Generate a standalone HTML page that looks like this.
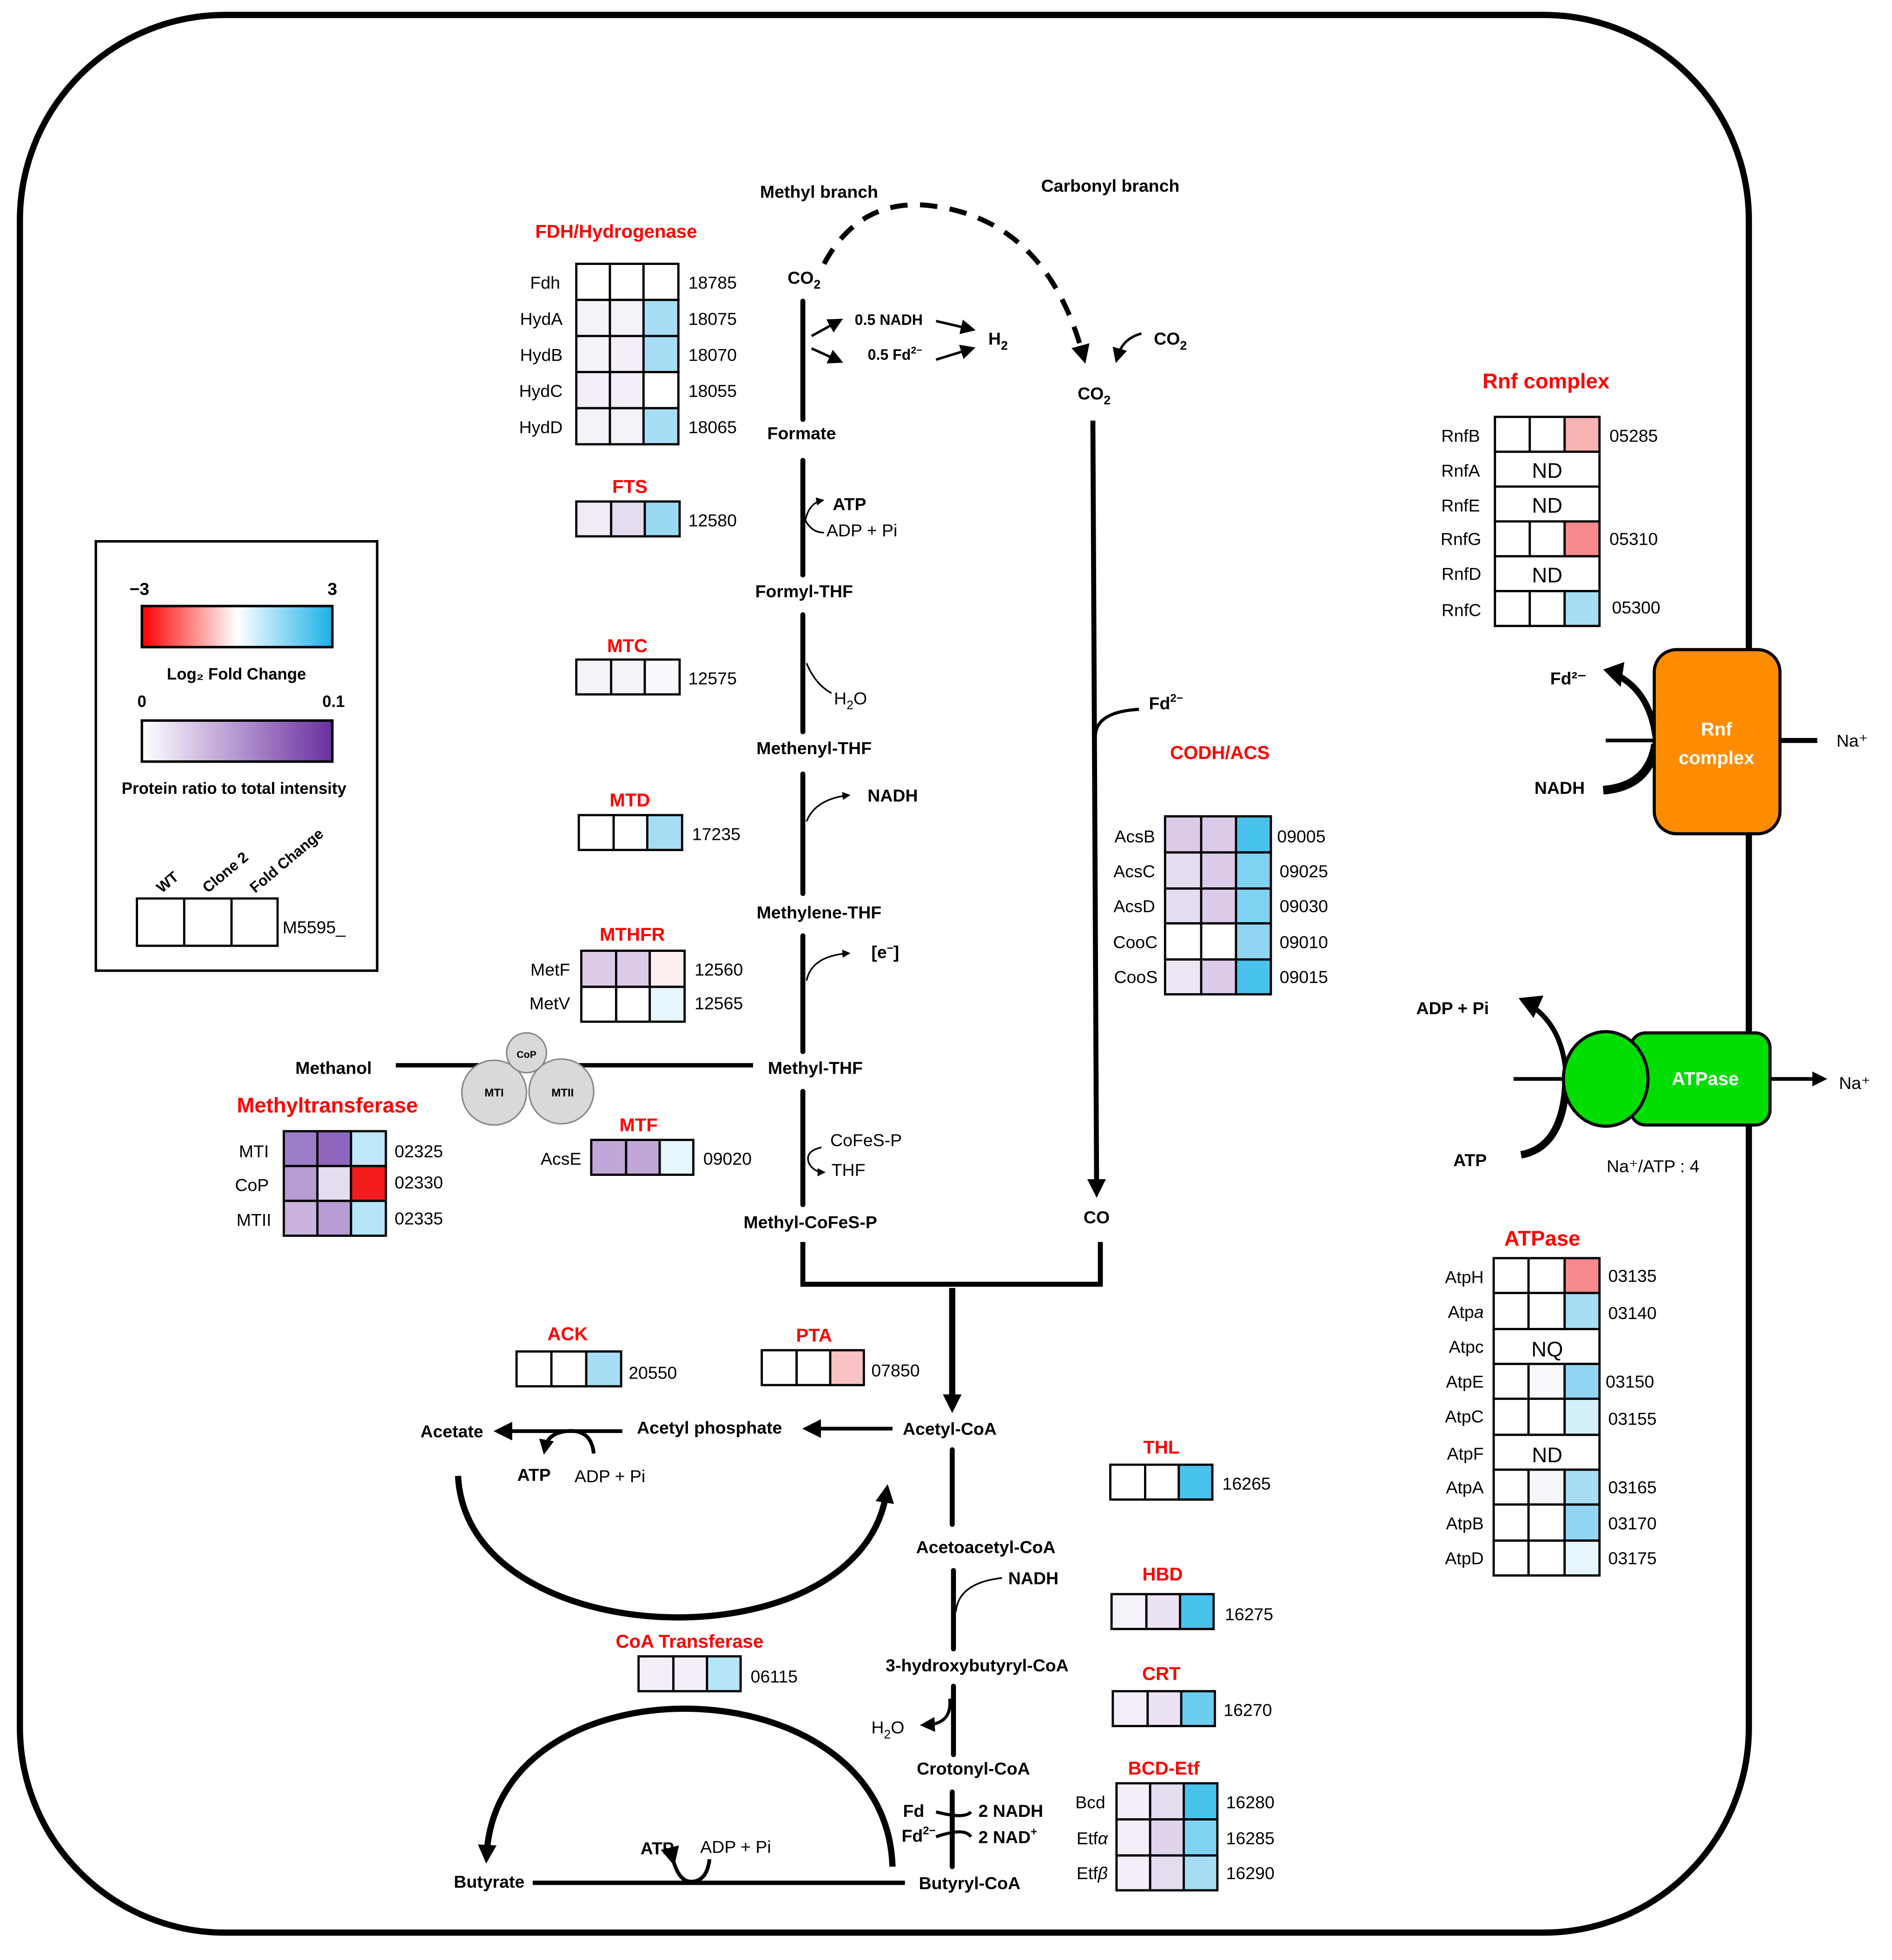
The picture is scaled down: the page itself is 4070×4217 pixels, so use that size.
<!DOCTYPE html>
<html><head><meta charset="utf-8">
<style>
html,body{margin:0;padding:0;background:#fff}
svg{display:block}
text{font-family:"Liberation Sans",sans-serif;font-size:14px}
.b{font-weight:bold}
.r{fill:#f00;font-weight:bold;font-size:15px}
.c rect{stroke:#000;stroke-width:1.8}
.ln{stroke:#000;stroke-width:4;fill:none;stroke-linecap:round}
.tn{stroke:#000;stroke-width:1.3;fill:none}
.ar{stroke:#000;stroke-width:2;fill:none}
</style></head><body>
<svg width="4070" height="4217" viewBox="0 0 1520 1575" preserveAspectRatio="none" xmlns="http://www.w3.org/2000/svg">
<defs>
<marker id="ah" viewBox="0 0 10 10" refX="8" refY="5" markerWidth="5" markerHeight="5" orient="auto-start-reverse"><path d="M0,0 L10,5 L0,10 z" fill="#000"/></marker>
<marker id="as" viewBox="0 0 10 10" refX="5" refY="5" markerWidth="15" markerHeight="15" orient="auto" markerUnits="userSpaceOnUse"><path d="M0,0 L10,5 L0,10 z" fill="#000"/></marker>
<marker id="am" viewBox="0 0 10 10" refX="5" refY="5" markerWidth="12" markerHeight="12" orient="auto" markerUnits="userSpaceOnUse"><path d="M0,0 L10,5 L0,10 z" fill="#000"/></marker>
<linearGradient id="g1" x1="0" x2="1"><stop offset="0" stop-color="#f00"/><stop offset="0.5" stop-color="#fff"/><stop offset="1" stop-color="#1ab0e8"/></linearGradient>
<linearGradient id="g2" x1="0" x2="1"><stop offset="0" stop-color="#fff"/><stop offset="1" stop-color="#6a2fa0"/></linearGradient>
</defs>
<rect width="1520" height="1575" fill="#fff"/>
<rect x="16" y="12" width="1389" height="1541" rx="165" ry="165" fill="none" stroke="#000" stroke-width="5"/>

<!-- Legend -->
<rect x="77" y="435" width="226" height="345" fill="none" stroke="#000" stroke-width="2"/>
<text x="112" y="478" text-anchor="middle" class="b">−3</text>
<text x="267" y="478" text-anchor="middle" class="b">3</text>
<rect x="114" y="487" width="153" height="33" fill="url(#g1)" stroke="#000" stroke-width="2"/>
<text x="190" y="546" text-anchor="middle" class="b" style="font-size:13px">Log₂ Fold Change</text>
<text x="114" y="568" text-anchor="middle" class="b" style="font-size:13px">0</text>
<text x="268" y="568" text-anchor="middle" class="b" style="font-size:13px">0.1</text>
<rect x="114" y="579" width="153" height="33" fill="url(#g2)" stroke="#000" stroke-width="2"/>
<text x="188" y="638" text-anchor="middle" class="b" style="font-size:13px">Protein ratio to total intensity</text>
<g class="c"><rect x="110" y="722" width="38" height="38" fill="#fff"/><rect x="148" y="722" width="38" height="38" fill="#fff"/><rect x="186" y="722" width="37" height="38" fill="#fff"/></g>
<text transform="translate(130,718) rotate(-40)" class="b" style="font-size:12px">WT</text>
<text transform="translate(167,718) rotate(-40)" class="b" style="font-size:12px">Clone 2</text>
<text transform="translate(205,718) rotate(-40)" class="b" style="font-size:12px">Fold Change</text>
<text x="227" y="750">M5595_</text>

<!-- FDH -->
<text x="495" y="191" text-anchor="middle" class="r">FDH/Hydrogenase</text>
<g class="c">
<rect x="463" y="212" width="27" height="29" fill="#fff"/><rect x="490" y="212" width="27" height="29" fill="#fff"/><rect x="517" y="212" width="28" height="29" fill="#fff"/>
<rect x="463" y="241" width="27" height="29" fill="#f6f2fa"/><rect x="490" y="241" width="27" height="29" fill="#f6f2fa"/><rect x="517" y="241" width="28" height="29" fill="#a6ddf4"/>
<rect x="463" y="270" width="27" height="29" fill="#f6f2fa"/><rect x="490" y="270" width="27" height="29" fill="#f3eef8"/><rect x="517" y="270" width="28" height="29" fill="#a6ddf4"/>
<rect x="463" y="299" width="27" height="29" fill="#f3eef8"/><rect x="490" y="299" width="27" height="29" fill="#f3eef8"/><rect x="517" y="299" width="28" height="29" fill="#fff"/>
<rect x="463" y="328" width="27" height="29" fill="#f6f2fa"/><rect x="490" y="328" width="27" height="29" fill="#f6f2fa"/><rect x="517" y="328" width="28" height="29" fill="#a6ddf4"/>
</g>
<g text-anchor="end"><text x="450" y="232">Fdh</text><text x="452" y="261">HydA</text><text x="452" y="290">HydB</text><text x="452" y="319">HydC</text><text x="452" y="348">HydD</text></g>
<text x="553" y="232">18785</text><text x="553" y="261">18075</text><text x="553" y="290">18070</text><text x="553" y="319">18055</text><text x="553" y="348">18065</text>

<text x="506" y="396" text-anchor="middle" class="r">FTS</text>
<g class="c"><rect x="463" y="403" width="28" height="28" fill="#f1ebf7"/><rect x="491" y="403" width="27" height="28" fill="#e6dcf0"/><rect x="518" y="403" width="28" height="28" fill="#9ad8f2"/></g>
<text x="553" y="423">12580</text>
<text x="504" y="524" text-anchor="middle" class="r">MTC</text>
<g class="c"><rect x="463" y="530" width="28" height="28" fill="#f6f2fa"/><rect x="491" y="530" width="27" height="28" fill="#f6f2fa"/><rect x="518" y="530" width="28" height="28" fill="#fbf9fd"/></g>
<text x="553" y="550">12575</text>
<text x="506" y="648" text-anchor="middle" class="r">MTD</text>
<g class="c"><rect x="465" y="655" width="28" height="28" fill="#fff"/><rect x="493" y="655" width="27" height="28" fill="#fff"/><rect x="520" y="655" width="28" height="28" fill="#a6ddf4"/></g>
<text x="556" y="675">17235</text>
<text x="508" y="756" text-anchor="middle" class="r">MTHFR</text>
<g class="c">
<rect x="467" y="764" width="28" height="29" fill="#dccbe8"/><rect x="495" y="764" width="27" height="29" fill="#dccbe8"/><rect x="522" y="764" width="28" height="29" fill="#fdeef0"/>
<rect x="467" y="793" width="28" height="28" fill="#fff"/><rect x="495" y="793" width="27" height="28" fill="#fff"/><rect x="522" y="793" width="28" height="28" fill="#e6f6fc"/>
</g>
<text x="458" y="784" text-anchor="end">MetF</text><text x="458" y="811" text-anchor="end">MetV</text>
<text x="558" y="784">12560</text><text x="558" y="811">12565</text>

<text x="263" y="894" text-anchor="middle" class="r" style="font-size:17px">Methyltransferase</text>
<g class="c">
<rect x="228" y="909" width="27" height="28" fill="#9d7cc7"/><rect x="255" y="909" width="27" height="28" fill="#8e66bd"/><rect x="282" y="909" width="28" height="28" fill="#bde8f8"/>
<rect x="228" y="937" width="27" height="28" fill="#b79bd3"/><rect x="255" y="937" width="27" height="28" fill="#e6dcf0"/><rect x="282" y="937" width="28" height="28" fill="#f31c1c"/>
<rect x="228" y="965" width="27" height="28" fill="#c9b2dd"/><rect x="255" y="965" width="27" height="28" fill="#b79bd3"/><rect x="282" y="965" width="28" height="28" fill="#b6e5f7"/>
</g>
<g text-anchor="end"><text x="216" y="930">MTI</text><text x="216" y="957">CoP</text><text x="218" y="985">MTII</text></g>
<text x="317" y="930">02325</text><text x="317" y="955">02330</text><text x="317" y="984">02335</text>

<text x="513" y="909" text-anchor="middle" class="r">MTF</text>
<g class="c"><rect x="475" y="916" width="28" height="28" fill="#c1a6d8"/><rect x="503" y="916" width="27" height="28" fill="#c1a6d8"/><rect x="530" y="916" width="27" height="28" fill="#e6f6fc"/></g>
<text x="467" y="936" text-anchor="end">AcsE</text><text x="565" y="936">09020</text>

<text x="980" y="610" text-anchor="middle" class="r">CODH/ACS</text>
<g class="c">
<rect x="936" y="656" width="29" height="29" fill="#dccbe8"/><rect x="965" y="656" width="28" height="29" fill="#dccbe8"/><rect x="993" y="656" width="28" height="29" fill="#49c2ec"/>
<rect x="936" y="685" width="29" height="29" fill="#e6dcf0"/><rect x="965" y="685" width="28" height="29" fill="#dccbe8"/><rect x="993" y="685" width="28" height="29" fill="#7fd2f1"/>
<rect x="936" y="714" width="29" height="28" fill="#e6dcf0"/><rect x="965" y="714" width="28" height="28" fill="#dccbe8"/><rect x="993" y="714" width="28" height="28" fill="#7fd2f1"/>
<rect x="936" y="742" width="29" height="29" fill="#fff"/><rect x="965" y="742" width="28" height="29" fill="#fff"/><rect x="993" y="742" width="28" height="29" fill="#8fd5f2"/>
<rect x="936" y="771" width="29" height="28" fill="#eee6f4"/><rect x="965" y="771" width="28" height="28" fill="#dccbe8"/><rect x="993" y="771" width="28" height="28" fill="#49c2ec"/>
</g>
<g text-anchor="end"><text x="928" y="677">AcsB</text><text x="928" y="705">AcsC</text><text x="928" y="733">AcsD</text><text x="930" y="762">CooC</text><text x="930" y="790">CooS</text></g>
<text x="1026" y="677">09005</text><text x="1028" y="705">09025</text><text x="1028" y="733">09030</text><text x="1028" y="762">09010</text><text x="1028" y="790">09015</text>

<text x="1242" y="312" text-anchor="middle" class="r" style="font-size:17px">Rnf complex</text>
<g class="c">
<rect x="1201" y="335" width="28" height="28" fill="#fff"/><rect x="1229" y="335" width="28" height="28" fill="#fff"/><rect x="1257" y="335" width="28" height="28" fill="#f8b3b5"/>
<rect x="1201" y="363" width="84" height="28" fill="#fff"/>
<rect x="1201" y="391" width="84" height="28" fill="#fff"/>
<rect x="1201" y="419" width="28" height="28" fill="#fff"/><rect x="1229" y="419" width="28" height="28" fill="#fff"/><rect x="1257" y="419" width="28" height="28" fill="#f58a8e"/>
<rect x="1201" y="447" width="84" height="28" fill="#fff"/>
<rect x="1201" y="475" width="28" height="28" fill="#fff"/><rect x="1229" y="475" width="28" height="28" fill="#fff"/><rect x="1257" y="475" width="28" height="28" fill="#a6ddf4"/>
</g>
<g text-anchor="end"><text x="1189" y="355">RnfB</text><text x="1189" y="383">RnfA</text><text x="1189" y="411">RnfE</text><text x="1190" y="438">RnfG</text><text x="1190" y="466">RnfD</text><text x="1190" y="495">RnfC</text></g>
<g text-anchor="middle"><text x="1243" y="384" style="font-size:17px">ND</text><text x="1243" y="412" style="font-size:17px">ND</text><text x="1243" y="468" style="font-size:17px">ND</text></g>
<text x="1293" y="355">05285</text><text x="1293" y="438">05310</text><text x="1295" y="493">05300</text>

<line x1="1290" y1="595" x2="1330" y2="595" stroke="#000" stroke-width="3"/>
<line x1="1430" y1="595" x2="1460" y2="595" stroke="#000" stroke-width="4"/>
<path d="M1298,542 Q1325,555 1330,592" stroke="#000" stroke-width="5" fill="none"/>
<path d="M1288,538 L1305,532 L1302,552 z" fill="#000"/>
<path d="M1330,598 Q1325,632 1288,635" stroke="#000" stroke-width="7" fill="none"/>
<rect x="1329" y="522" width="101" height="148" rx="18" fill="#ff8c00" stroke="#000" stroke-width="2.5"/>
<text x="1379" y="591" text-anchor="middle" class="b" fill="#fff" style="font-size:15px">Rnf</text>
<text x="1379" y="614" text-anchor="middle" class="b" fill="#fff" style="font-size:15px">complex</text>
<text x="1260" y="550" text-anchor="middle" class="b">Fd²⁻</text>
<text x="1253" y="638" text-anchor="middle" class="b">NADH</text>
<text x="1488" y="600" text-anchor="middle">Na⁺</text>

<line x1="1216" y1="867" x2="1260" y2="867" stroke="#000" stroke-width="3"/>
<line x1="1420" y1="867" x2="1462" y2="867" stroke="#000" stroke-width="3" marker-end="url(#am)"/>
<path d="M1230,808 Q1255,825 1258,862" stroke="#000" stroke-width="4" fill="none"/>
<path d="M1220,802 L1240,800 L1232,818 z" fill="#000"/>
<path d="M1258,872 Q1255,922 1222,928" stroke="#000" stroke-width="6" fill="none"/>
<rect x="1310" y="830" width="112" height="74" rx="12" fill="#00dd00" stroke="#000" stroke-width="2.5"/>
<ellipse cx="1290" cy="867" rx="34" ry="38" fill="#00dd00" stroke="#000" stroke-width="2.5"/>
<text x="1370" y="872" text-anchor="middle" class="b" fill="#fff" style="font-size:15px">ATPase</text>
<text x="1167" y="815" text-anchor="middle" class="b">ADP + Pi</text>
<text x="1181" y="937" text-anchor="middle" class="b">ATP</text>
<text x="1328" y="942" text-anchor="middle">Na⁺/ATP : 4</text>
<text x="1490" y="875" text-anchor="middle">Na⁺</text>

<text x="1239" y="1001" text-anchor="middle" class="r" style="font-size:17px">ATPase</text>
<g class="c">
<rect x="1200" y="1011" width="28" height="28" fill="#fff"/><rect x="1228" y="1011" width="29" height="28" fill="#fff"/><rect x="1257" y="1011" width="28" height="28" fill="#f58a8e"/>
<rect x="1200" y="1039" width="28" height="29" fill="#fff"/><rect x="1228" y="1039" width="29" height="29" fill="#fff"/><rect x="1257" y="1039" width="28" height="29" fill="#a6ddf4"/>
<rect x="1200" y="1068" width="85" height="28" fill="#fff"/>
<rect x="1200" y="1096" width="28" height="28" fill="#fff"/><rect x="1228" y="1096" width="29" height="28" fill="#f8f8fd"/><rect x="1257" y="1096" width="28" height="28" fill="#90d6f2"/>
<rect x="1200" y="1124" width="28" height="29" fill="#fff"/><rect x="1228" y="1124" width="29" height="29" fill="#fff"/><rect x="1257" y="1124" width="28" height="29" fill="#d4f0fb"/>
<rect x="1200" y="1153" width="85" height="28" fill="#fff"/>
<rect x="1200" y="1181" width="28" height="28" fill="#fff"/><rect x="1228" y="1181" width="29" height="28" fill="#f6f6fb"/><rect x="1257" y="1181" width="28" height="28" fill="#a6ddf4"/>
<rect x="1200" y="1209" width="28" height="29" fill="#fff"/><rect x="1228" y="1209" width="29" height="29" fill="#fff"/><rect x="1257" y="1209" width="28" height="29" fill="#90d6f2"/>
<rect x="1200" y="1238" width="28" height="28" fill="#fff"/><rect x="1228" y="1238" width="29" height="28" fill="#fff"/><rect x="1257" y="1238" width="28" height="28" fill="#e6f6fc"/>
</g>
<g text-anchor="end"><text x="1192" y="1031">AtpH</text><text x="1192" y="1059">Atp<tspan font-style="italic">a</tspan></text><text x="1192" y="1087">Atpc</text><text x="1192" y="1115">AtpE</text><text x="1192" y="1143">AtpC</text><text x="1192" y="1173">AtpF</text><text x="1192" y="1200">AtpA</text><text x="1192" y="1229">AtpB</text><text x="1192" y="1257">AtpD</text></g>
<text x="1243" y="1090" text-anchor="middle" style="font-size:17px">NQ</text>
<text x="1243" y="1175" text-anchor="middle" style="font-size:17px">ND</text>
<text x="1292" y="1030">03135</text><text x="1292" y="1060">03140</text><text x="1290" y="1115">03150</text><text x="1292" y="1145">03155</text><text x="1292" y="1200">03165</text><text x="1292" y="1229">03170</text><text x="1292" y="1257">03175</text>

<text x="456" y="1077" text-anchor="middle" class="r">ACK</text>
<g class="c"><rect x="415" y="1086" width="28" height="28" fill="#fff"/><rect x="443" y="1086" width="28" height="28" fill="#fff"/><rect x="471" y="1086" width="28" height="28" fill="#a6ddf4"/></g>
<text x="505" y="1108">20550</text>
<text x="654" y="1078" text-anchor="middle" class="r">PTA</text>
<g class="c"><rect x="612" y="1085" width="28" height="28" fill="#fff"/><rect x="640" y="1085" width="27" height="28" fill="#fff"/><rect x="667" y="1085" width="27" height="28" fill="#f9c3c5"/></g>
<text x="700" y="1106">07850</text>
<text x="933" y="1168" text-anchor="middle" class="r">THL</text>
<g class="c"><rect x="892" y="1177" width="28" height="28" fill="#fff"/><rect x="920" y="1177" width="27" height="28" fill="#fff"/><rect x="947" y="1177" width="27" height="28" fill="#49c2ec"/></g>
<text x="982" y="1197">16265</text>
<text x="934" y="1270" text-anchor="middle" class="r">HBD</text>
<g class="c"><rect x="893" y="1281" width="28" height="28" fill="#f6f2fa"/><rect x="921" y="1281" width="27" height="28" fill="#ebe3f3"/><rect x="948" y="1281" width="27" height="28" fill="#49c2ec"/></g>
<text x="984" y="1302">16275</text>
<text x="933" y="1350" text-anchor="middle" class="r">CRT</text>
<g class="c"><rect x="894" y="1359" width="28" height="28" fill="#f3eef8"/><rect x="922" y="1359" width="27" height="28" fill="#ebe3f3"/><rect x="949" y="1359" width="27" height="28" fill="#6ccdf0"/></g>
<text x="983" y="1379">16270</text>
<text x="935" y="1426" text-anchor="middle" class="r">BCD-Etf</text>
<g class="c">
<rect x="897" y="1433" width="27" height="29" fill="#f3eef8"/><rect x="924" y="1433" width="27" height="29" fill="#e6dcf0"/><rect x="951" y="1433" width="27" height="29" fill="#49c2ec"/>
<rect x="897" y="1462" width="27" height="29" fill="#f3eef8"/><rect x="924" y="1462" width="27" height="29" fill="#e0d3ec"/><rect x="951" y="1462" width="27" height="29" fill="#7fd2f1"/>
<rect x="897" y="1491" width="27" height="28" fill="#f3eef8"/><rect x="924" y="1491" width="27" height="28" fill="#e6dcf0"/><rect x="951" y="1491" width="27" height="28" fill="#a6ddf4"/>
</g>
<g text-anchor="end"><text x="888" y="1453">Bcd</text><text x="890" y="1482">Etf<tspan font-style="italic">α</tspan></text><text x="890" y="1510">Etf<tspan font-style="italic">β</tspan></text></g>
<text x="985" y="1453">16280</text><text x="985" y="1482">16285</text><text x="985" y="1510">16290</text>
<text x="554" y="1324" text-anchor="middle" class="r">CoA Transferase</text>
<g class="c"><rect x="513" y="1331" width="28" height="28" fill="#f3eef8"/><rect x="541" y="1331" width="27" height="28" fill="#f3eef8"/><rect x="568" y="1331" width="27" height="28" fill="#b6e5f7"/></g>
<text x="603" y="1352">06115</text>

<!-- pathway -->
<text x="658" y="159" text-anchor="middle" class="b">Methyl branch</text>
<text x="892" y="154" text-anchor="middle" class="b">Carbonyl branch</text>
<path d="M662,212 Q690,160 745,165 Q840,175 870,285" stroke="#000" stroke-width="4" fill="none" stroke-dasharray="14,10" marker-end="url(#as)"/>
<text x="646" y="228" text-anchor="middle" class="b">CO<tspan dy="4" style="font-size:10px">2</tspan></text>
<line class="ln" x1="645" y1="242" x2="645" y2="337"/>
<line class="ar" x1="652" y1="270" x2="672" y2="259" marker-end="url(#am)"/>
<line class="ar" x1="652" y1="280" x2="672" y2="289" marker-end="url(#am)"/>
<text x="714" y="261" text-anchor="middle" class="b" style="font-size:12px">0.5 NADH</text>
<text x="719" y="289" text-anchor="middle" class="b" style="font-size:12px">0.5 Fd<tspan dy="-5" style="font-size:8px">2−</tspan></text>
<line class="ar" x1="752" y1="258" x2="778" y2="264" marker-end="url(#am)"/>
<line class="ar" x1="752" y1="289" x2="778" y2="281" marker-end="url(#am)"/>
<text x="794" y="277" class="b">H<tspan dy="4" style="font-size:10px">2</tspan></text>
<text x="644" y="353" text-anchor="middle" class="b">Formate</text>
<line class="ln" x1="645" y1="370" x2="645" y2="462"/>
<path d="M647,418 Q650,404 661,402" class="tn" stroke-width="2" marker-end="url(#ah)"/>
<path d="M647,418 Q652,428 662,428" class="tn"/>
<text x="669" y="410" class="b">ATP</text>
<text x="664" y="431">ADP +  Pi</text>
<text x="646" y="480" text-anchor="middle" class="b">Formyl-THF</text>
<line class="ln" x1="645" y1="494" x2="645" y2="588"/>
<path d="M648,533 Q655,550 668,557" class="tn"/>
<text x="670" y="566">H<tspan dy="4" style="font-size:10px">2</tspan><tspan dy="-4">O</tspan></text>
<text x="654" y="606" text-anchor="middle" class="b">Methenyl-THF</text>
<line class="ln" x1="645" y1="622" x2="645" y2="718"/>
<path d="M648,660 Q655,642 682,639" class="tn" marker-end="url(#ah)"/>
<text x="697" y="644" class="b">NADH</text>
<text x="658" y="738" text-anchor="middle" class="b">Methylene-THF</text>
<line class="ln" x1="645" y1="752" x2="645" y2="845"/>
<path d="M648,788 Q652,768 682,766" class="tn" marker-end="url(#ah)"/>
<text x="700" y="770" class="b">[e<tspan dy="-5" style="font-size:9px">−</tspan><tspan dy="5">]</tspan></text>
<text x="655" y="863" text-anchor="middle" class="b">Methyl-THF</text>
<line class="ln" x1="645" y1="877" x2="645" y2="968"/>
<path d="M660,922 Q646,925 650,935 Q654,942 662,942" class="tn" stroke-width="2" marker-end="url(#ah)"/>
<text x="667" y="921">CoFeS-P</text>
<text x="668" y="945">THF</text>
<text x="651" y="987" text-anchor="middle" class="b">Methyl-CoFeS-P</text>

<text x="268" y="863" text-anchor="middle" class="b">Methanol</text>
<line x1="318" y1="856" x2="605" y2="856" stroke="#000" stroke-width="3.5"/>
<circle cx="397" cy="878" r="26" fill="#d9d9d9" stroke="#888" stroke-width="1.2"/>
<circle cx="451" cy="877" r="26" fill="#d9d9d9" stroke="#888" stroke-width="1.2"/>
<circle cx="423" cy="846" r="16" fill="#d9d9d9" stroke="#888" stroke-width="1.2"/>
<text x="397" y="881" text-anchor="middle" class="b" style="font-size:9px">MTI</text>
<text x="452" y="881" text-anchor="middle" class="b" style="font-size:9px">MTII</text>
<text x="423" y="850" text-anchor="middle" class="b" style="font-size:8px">CoP</text>

<path d="M917,268 Q902,272 898,286" class="ar" marker-end="url(#am)"/>
<text x="927" y="277" class="b">CO<tspan dy="4" style="font-size:10px">2</tspan></text>
<text x="879" y="321" text-anchor="middle" class="b">CO<tspan dy="4" style="font-size:10px">2</tspan></text>
<line x1="878" y1="338" x2="881" y2="955" stroke="#000" stroke-width="4" marker-end="url(#as)"/>
<path d="M880,592 Q880,572 915,570" stroke="#000" stroke-width="2.5" fill="none"/>
<text x="923" y="570" class="b">Fd<tspan dy="-6" style="font-size:9px">2−</tspan></text>
<text x="881" y="983" text-anchor="middle" class="b">CO</text>

<path d="M645,998 L645,1032 L884,1032 L884,998" stroke="#000" stroke-width="4" fill="none"/>
<line x1="765" y1="1035" x2="765" y2="1128" stroke="#000" stroke-width="5" marker-end="url(#as)"/>
<text x="763" y="1153" text-anchor="middle" class="b">Acetyl-CoA</text>
<line x1="717" y1="1148" x2="652" y2="1148" stroke="#000" stroke-width="3" marker-end="url(#as)"/>
<text x="570" y="1152" text-anchor="middle" class="b">Acetyl phosphate</text>
<line x1="500" y1="1150" x2="404" y2="1150" stroke="#000" stroke-width="3" marker-end="url(#as)"/>
<text x="363" y="1155" text-anchor="middle" class="b">Acetate</text>
<path d="M477,1168 Q475,1148 455,1150 Q440,1152 438,1163" stroke="#000" stroke-width="3" fill="none" marker-end="url(#am)"/>
<text x="429" y="1190" text-anchor="middle" class="b">ATP</text>
<text x="490" y="1191" text-anchor="middle">ADP + Pi</text>
<path d="M368,1186 C375,1330 690,1340 712,1200" stroke="#000" stroke-width="5" fill="none" marker-end="url(#as)"/>

<line class="ln" x1="765" y1="1165" x2="765" y2="1225"/>
<text x="792" y="1248" text-anchor="middle" class="b">Acetoacetyl-CoA</text>
<line class="ln" x1="766" y1="1262" x2="766" y2="1325"/>
<path d="M768,1295 Q770,1272 805,1268" class="tn" stroke-width="1.5"/>
<text x="810" y="1273" class="b">NADH</text>
<text x="785" y="1343" text-anchor="middle" class="b">3-hydroxybutyryl-CoA</text>
<line class="ln" x1="766" y1="1355" x2="766" y2="1410"/>
<path d="M763,1365 Q765,1385 745,1386" stroke="#000" stroke-width="2.5" fill="none" marker-end="url(#am)"/>
<text x="700" y="1393">H<tspan dy="4" style="font-size:10px">2</tspan><tspan dy="-4">O</tspan></text>
<text x="782" y="1426" text-anchor="middle" class="b">Crotonyl-CoA</text>
<line class="ln" x1="765" y1="1440" x2="765" y2="1500"/>
<path d="M752,1456 Q775,1462 780,1456 M752,1476 Q775,1468 780,1476" stroke="#000" stroke-width="2.5" fill="none"/>
<text x="734" y="1460" text-anchor="middle" class="b">Fd</text>
<text x="738" y="1480" text-anchor="middle" class="b">Fd<tspan dy="-6" style="font-size:9px">2−</tspan></text>
<text x="786" y="1460" class="b">2 NADH</text>
<text x="786" y="1481" class="b">2 NAD<tspan dy="-6" style="font-size:9px">+</tspan></text>
<text x="779" y="1518" text-anchor="middle" class="b">Butyryl-CoA</text>
<line x1="428" y1="1513" x2="727" y2="1513" stroke="#000" stroke-width="3.5"/>
<text x="393" y="1517" text-anchor="middle" class="b">Butyrate</text>
<path d="M540,1492 Q545,1512 555,1512 Q568,1512 570,1494" stroke="#000" stroke-width="3" fill="none" marker-start="url(#as)"/>
<text x="528" y="1490" text-anchor="middle" class="b">ATP</text>
<text x="591" y="1489" text-anchor="middle">ADP + Pi</text>
<path d="M717,1500 C712,1335 400,1330 391,1490" stroke="#000" stroke-width="5" fill="none" marker-end="url(#as)"/>
</svg>
</body></html>
